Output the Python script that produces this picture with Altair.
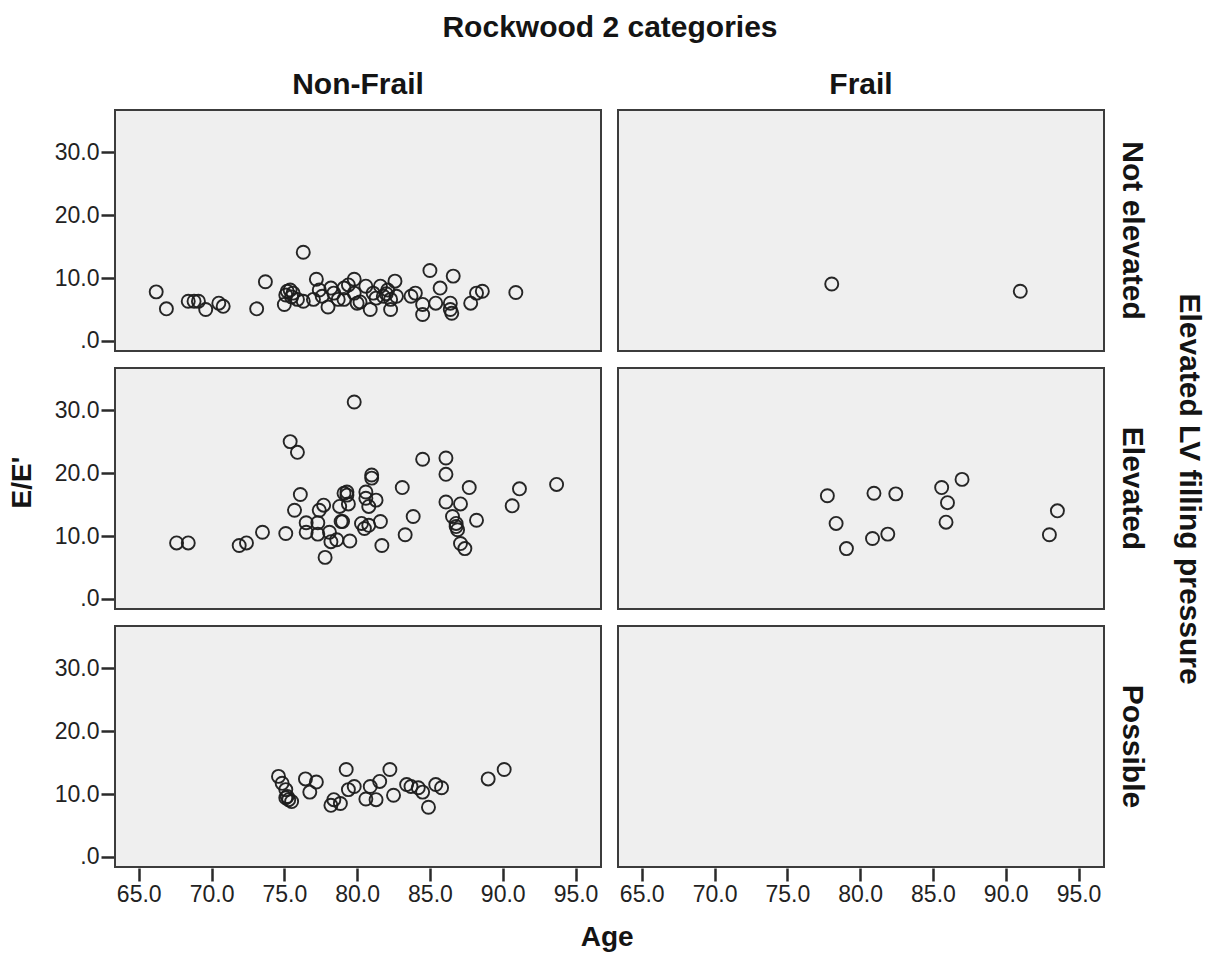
import altair as alt
import pandas as pd

# Column and row category orders
FRAILTY = ["Non-Frail", "Frail"]
LVFP = ["Not elevated", "Elevated", "Possible"]

# Non-Frail / Not elevated
nf_ne_age = [66.2, 66.9, 68.4, 68.8, 69.1, 69.6, 70.5, 70.8, 73.1, 73.7,
             75.0, 75.1, 75.2, 75.4, 75.5, 75.6, 75.9, 76.3, 76.3, 77.0,
             77.2, 77.4, 77.6, 78.0, 78.2, 78.4, 78.7, 79.1, 79.1, 79.4,
             79.8, 79.8, 80.0, 80.2, 80.6, 80.9, 81.1, 81.3, 81.6, 81.8,
             82.0, 82.1, 82.3, 82.3, 82.6, 82.7, 83.7, 84.0, 84.5, 84.5,
             85.0, 85.4, 85.7, 86.4, 86.4, 86.5, 86.6, 87.8, 88.2, 88.6,
             90.9]
nf_ne_ee = [7.8, 5.1, 6.3, 6.3, 6.3, 5.0, 6.0, 5.5, 5.1, 9.4,
            5.8, 7.3, 7.9, 8.1, 7.0, 7.6, 6.6, 14.1, 6.3, 6.6,
            9.8, 8.1, 7.1, 5.4, 8.4, 7.6, 6.6, 8.4, 6.6, 8.9,
            9.8, 7.6, 6.0, 6.2, 8.7, 5.0, 7.6, 6.8, 8.7, 7.1,
            7.5, 8.1, 6.6, 5.0, 9.5, 7.1, 7.1, 7.6, 5.8, 4.2,
            11.2, 6.0, 8.4, 6.0, 5.0, 4.4, 10.3, 6.0, 7.6, 7.9,
            7.7]

# Frail / Not elevated
f_ne_age = [78.05, 91.0]
f_ne_ee = [9.05, 7.9]

# Non-Frail / Elevated
nf_el_age = [67.6, 68.4, 71.9, 72.4, 73.5, 75.1, 75.4, 75.9, 76.1, 75.7,
             76.5, 76.5, 77.3, 77.3, 77.4, 77.7, 77.8, 78.1, 78.2, 78.6,
             78.8, 78.9, 79.3, 79.3, 79.4, 79.5, 79.8, 79.1, 79.0, 80.6,
             80.6, 80.8, 81.0, 81.0, 81.3, 80.3, 80.5, 80.8, 81.6, 81.7,
             83.1, 83.3, 83.85, 84.5, 86.1, 86.1, 86.1, 86.55, 86.8, 86.8,
             86.9, 87.1, 87.1, 87.4, 87.7, 88.2, 90.65, 91.15, 93.7]
nf_el_ee = [8.9, 8.9, 8.5, 8.9, 10.6, 10.4, 25.0, 23.3, 16.6, 14.1,
            12.1, 10.6, 12.1, 10.3, 14.1, 14.9, 6.6, 10.6, 9.1, 9.4,
            14.7, 12.3, 17.0, 16.5, 15.1, 9.2, 31.3, 16.8, 12.3, 17.0,
            16.0, 14.7, 19.7, 19.2, 15.7, 12.0, 11.2, 11.7, 12.3, 8.5,
            17.7, 10.2, 13.1, 22.2, 22.4, 19.8, 15.4, 13.1, 12.0, 11.5,
            11.0, 15.1, 8.8, 8.0, 17.7, 12.5, 14.8, 17.5, 18.2]

# Frail / Elevated
f_el_age = [77.75, 78.35, 79.06, 80.95, 80.85, 81.9, 82.45, 85.6, 86.0, 85.9,
            87.0, 93.0, 93.55]
f_el_ee = [16.4, 12.0, 8.0, 16.8, 9.6, 10.3, 16.7, 17.7, 15.3, 12.2,
           19.0, 10.2, 14.0]

# Non-Frail / Possible
nf_po_age = [74.6, 74.85, 75.1, 75.1, 75.3, 75.5, 75.2, 76.45, 76.75, 77.2,
             78.2, 78.4, 78.85, 79.25, 79.4, 79.8, 80.6, 80.9, 81.3, 81.55,
             82.25, 82.5, 83.4, 83.7, 84.2, 84.5, 84.9, 85.4, 85.8, 89.0,
             90.1]
nf_po_ee = [12.8, 11.7, 10.7, 9.4, 9.1, 8.8, 9.6, 12.4, 10.3, 11.9,
            8.2, 9.1, 8.5, 13.9, 10.7, 11.2, 9.2, 11.2, 9.1, 12.0,
            13.9, 9.8, 11.5, 11.2, 11.0, 10.3, 7.9, 11.5, 11.0, 12.4,
            13.9]

groups = [
    ("Non-Frail", "Not elevated", nf_ne_age, nf_ne_ee),
    ("Frail", "Not elevated", f_ne_age, f_ne_ee),
    ("Non-Frail", "Elevated", nf_el_age, nf_el_ee),
    ("Frail", "Elevated", f_el_age, f_el_ee),
    ("Non-Frail", "Possible", nf_po_age, nf_po_ee),
]

# Facet keys sort naturally ("c0" < "c1", "r0" < "r1" < "r2");
# header labels map the keys back to category names.
col_key = {name: f"c{i}" for i, name in enumerate(FRAILTY)}
row_key = {name: f"r{i}" for i, name in enumerate(LVFP)}

rows = []
for frail, lvfp, ages, ees in groups:
    for a, e in zip(ages, ees):
        rows.append({"col": col_key[frail], "row": row_key[lvfp], "age": a, "ee": e})
df = pd.DataFrame(rows)


def key_label_expr(mapping):
    parts = [f"datum.value == '{k}' ? '{name}'" for name, k in mapping.items()]
    return " : ".join(parts) + " : ''"


x_ticks = [65, 70, 75, 80, 85, 90, 95]
y_ticks = [0, 10, 20, 30]

FONT = "Liberation Sans"
INK = "#141414"

base = alt.Chart(df).mark_point(
    shape="circle", filled=False, size=170, strokeWidth=1.9,
    color="#1c1c1c", opacity=0.95
).encode(
    x=alt.X("age:Q", title=None,
            scale=alt.Scale(domain=[63.37, 96.75], nice=False, zero=False),
            axis=alt.Axis(values=x_ticks, format=".1f")),
    y=alt.Y("ee:Q", title=None,
            scale=alt.Scale(domain=[-1.6, 36.7], nice=False, zero=False),
            axis=alt.Axis(values=y_ticks,
                          labelExpr="datum.value == 0 ? '.0' : format(datum.value, '.1f')")),
).properties(width=486, height=241)

grid = base.facet(
    column=alt.Column("col:N", sort="ascending",
                      header=alt.Header(title="Rockwood 2 categories",
                                        labelExpr=key_label_expr(col_key),
                                        titleOrient="top", labelOrient="top",
                                        titlePadding=17, labelPadding=9)),
    row=alt.Row("row:N", sort="ascending",
                header=alt.Header(title="Elevated LV filling pressure",
                                  labelExpr=key_label_expr(row_key),
                                  titleOrient="right", labelOrient="right",
                                  labelAngle=90, titleAngle=90,
                                  labelPadding=12, titlePadding=17)),
    spacing={"row": 15, "column": 15},
).properties(
    # shared x-axis title, drawn once beneath both columns
    title=alt.TitleParams("Age", orient="bottom", anchor="middle", offset=18, dx=-22)
)

# shared y-axis title, drawn once to the left of all rows
chart = alt.hconcat(grid).properties(
    title=alt.TitleParams("E/E'", orient="left", anchor="middle", offset=11, dy=-6),
    background="white",
    padding={"left": 9, "top": 13, "right": 4, "bottom": 4},
).configure_view(
    fill="#efefef", stroke="#3c3c3c", strokeWidth=2
).configure_axis(
    domain=False, grid=False,
    tickColor="#2a2a2a", tickWidth=2.5, tickSize=13,
    labelFont=FONT, labelFontSize=23, labelColor="#222222", labelPadding=2,
).configure_header(
    labelFont=FONT, labelFontSize=30, labelFontWeight="bold", labelColor=INK,
    titleFont=FONT, titleFontSize=30, titleFontWeight="bold", titleColor=INK,
).configure_title(
    font=FONT, fontSize=28, fontWeight="bold", color=INK,
)

chart.save("out.html", embed_options={"renderer": "svg", "actions": False})
